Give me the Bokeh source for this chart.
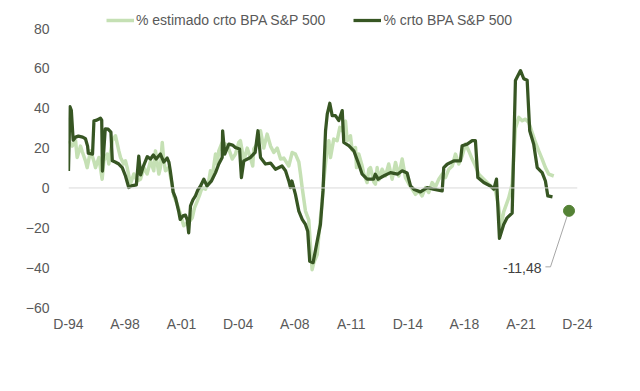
from bokeh.plotting import figure
from bokeh.models import (Range1d, FixedTicker, Span, Legend, LegendItem)
from bokeh.core.properties import value
from bokeh.embed import file_html
from bokeh.resources import INLINE

# ---- data (month index from Dec-1994) ----
tick_months = [0, 40, 80, 120, 160, 200, 240, 280, 320, 360]
tick_labels = ["D-94", "A-98", "A-01", "D-04", "A-08", "A-11", "D-14", "A-18", "A-21", "D-24"]
y_ticks = [-60, -40, -20, 0, 20, 40, 60, 80]

actual_m = [0, 1, 2, 3.3, 5, 7, 10, 12, 13.5, 14, 17, 18, 20, 22.6, 23.5, 24, 26, 28, 30, 31,
            33, 35.6, 38, 40.3, 42.6, 44.5, 48, 49.7, 51, 53, 55.7, 58, 60, 62, 65, 67.4, 69.8, 71, 72, 74,
            75.7, 78, 79, 81, 82.7, 84, 85, 86.3, 88, 89.8, 91.5, 93.4, 95.7, 98, 101, 104, 106.3, 108.7, 109, 110.5,
            113.4, 116, 118, 121, 122.3, 124, 128.7, 132, 134, 135.8, 139.3, 142.9, 146.4, 151, 153.5, 155.8, 157, 158, 160.5, 162.9,
            165.3, 167.6, 169.2, 170.6, 173, 175.9, 178.2, 180, 181.8, 183, 184.8, 186.5, 188.8, 191.2, 193.6, 194.7, 198.2, 201.8, 205.3, 207.7,
            211.2, 215.7, 217, 219, 222.8, 227.7, 232.7, 236, 239.5, 241.9, 244.2, 248.9, 253.7, 258, 264.3, 265.4, 267.8, 272.5, 277.2, 278.4,
            282, 285.5, 287.8, 289.5, 293.7, 298.4, 300.8, 302.7, 304.8, 307.8, 310.2, 313.8, 316.1, 319.7, 322, 324.4, 326.2, 329, 331.5, 335,
            337.3, 339, 342.3]
actual_v = [8.5, 40.8, 39, 24, 25.5, 26, 25.5, 24.7, 21, 17.4, 17, 33.7, 34, 35, 34, 8.5, 29.7, 29.5, 28, 13.6,
            13, 12, 10.2, 6, 0.2, 1, 1.5, 16, 6.5, 11, 15.7, 14.5, 16.5, 14.5, 17, 13, 15, 13, 8.6, -2,
            -5, -12, -15.8, -14, -13.6, -16, -22.5, -9, -6, -4, -1, 1, 4.4, 1, 3.4, 7.7, 12, 15.3, 28.7, 17,
            22, 21.5, 20.3, 19.5, 5.2, 13.6, 15.3, 17.8, 28.7, 15.3, 12, 12.5, 9.4, 11, 8.6, 3.5, 0.2, 3.5, -3.2, -11.6,
            -15.8, -18.3, -21.7, -36.8, -37.5, -26.7, -18.3, -1.5, 28.7, 37, 42.5, 36.3, 36.3, 33.8, 38.8, 22.8, 21.2, 18.6, 11.9, 6.9,
            4.4, 4.4, 6.9, 4.4, 6, 7.7, 6.9, 8.6, 7.5, 1, -0.6, -2, 0.2, -0.6, -1.5, 10.2, 11.9, 13.6, 13.6, 21.2,
            22, 23.7, 23.7, 5.2, 2.7, 1, -0.6, 4.4, -25.3, -18.3, -15, -12.6, 53.9, 58.9, 54.8, 54, 28.7, 22, 10.2, 7.7,
            3.5, -4, -4.5]

est_m = [0.2, 2.6, 5, 6.1, 8.5, 9.7, 12, 13.2, 15.6, 17.9, 19.1, 21.5, 23.8, 25, 27.4, 28.5, 30.9, 33.2, 35.6, 36.8,
         39.1, 40.3, 41.5, 43.8, 46.2, 48.6, 50.9, 53.3, 55.6, 58, 60.3, 61.5, 63.9, 65, 66.3, 67.4, 68.6, 70.9, 73.3, 74.5,
         76.8, 79.2, 81.5, 83.9, 85.8, 87.5, 89.1, 91, 92.9, 94.5, 96.9, 99.2, 100.4, 101.6, 104, 105.2, 106.3, 108.7, 111, 113.4,
         115.8, 118.1, 120.4, 121.6, 124, 126.4, 128.7, 130.3, 131, 133.5, 135.8, 138.1, 140.5, 142.9, 145.2, 147.6, 150, 152.3, 155.8, 158.2,
         160.5, 162.9, 164.1, 165.3, 167.6, 169.9, 171.1, 172.3, 173.5, 175.9, 177, 178.2, 179.4, 180.5, 182.5, 184.1, 185.3, 187.6, 190, 191.9,
         193.6, 194.7, 195.9, 197.1, 199.4, 200.6, 203, 203.7, 205.3, 207.7, 208.9, 211.2, 212.4, 213.6, 215.9, 217.1, 218.3, 219.5, 221.8, 224.2,
         226.5, 228.9, 231.3, 233.6, 236, 238.3, 240.7, 243.1, 245.4, 247.7, 250.1, 252.5, 254.8, 257.2, 259.5, 261.9, 264.3, 266.6, 269, 271.4,
         273.7, 276, 278.4, 280.8, 283.1, 285.5, 287.8, 290.2, 293.7, 296.4, 299.6, 302, 304.3, 305.9, 307.8, 311.4, 313.8, 316.1, 318.5, 320.9,
         323.2, 325.5, 327.9, 330.3, 332.6, 335, 337.3, 339.7, 343.2]
est_v = [23.7, 21, 23.7, 15.3, 21, 18.3, 13.6, 10.2, 18.6, 13.6, 10.2, 15.3, 4.4, 13.6, 17, 12, 23.7, 26.2, 18.6, 15.3,
         12, 13.6, 10.2, 2, 7, 3.5, 4.4, 10.2, 7, 13.6, 8.6, 18.6, 7, 10.2, 22.8, 13.6, 8.6, 10.2, 1.8, -4,
         -8, -13.3, -19, -17.5, -16.6, -15, -10, -6.7, -3.2, 0.2, -0.6, 3.5, 8.6, 5.2, 17, 12, 18.6, 22.8, 22, 19.5,
         14.5, 17, 22.8, 23.7, 13.6, 20, 15, 11, 19.5, 22, 28.7, 20, 27, 21, 17.8, 20, 14.5, 15, 11, 17.8,
         17, 13, 6.9, 0, -11.6, -16, -28.4, -41, -37.5, -33.4, -24, -15, -7, 3.5, 17, 23.7, 15.3, 24.5, 23.7, 30.4,
         28.7, 32.9, 33.5, 23.7, 26.2, 19, 20.3, 10.2, 17, 11, 7, 2.7, 9.4, 10.2, 3, 1.9, 10.2, 4, 9.4, 6,
         12, 4.4, 12.8, 6, 14.5, 5.2, 2, -0.6, -3.2, -1.5, -4, 0.2, -2.3, 2.7, 0.5, 4.4, 6.9, 5.2, 9.4, 11,
         17, 12, 16, 22, 18.6, 14.5, 11, 6.9, 4.4, 2.5, 0.2, -1.5, -9.9, -19.5, -12, -4.9, 2, 30, 35.4, 33.7,
         34.5, 32.9, 27.8, 22.8, 18.6, 14.5, 10.2, 6.9, 6]

last_m = [354]
last_v = [-11.48]

# annotation placement (data units)
label_pos = (320.9, -40.2)
leader_m = [337.3, 340.9, 353.1]
leader_v = [-39.6, -39.6, -13.2]

DARK = "#375623"
LIGHT = "#C5E0B4"
DOT = "#548235"
TXT = "#595959"
FONT = "Liberation Sans"

# frame spans the top band too so the legend (drawn inside the frame) is not clipped
Y_TOP = 80 + 28 * 140 / 278.7

p = figure(width=632, height=383, output_backend="svg", toolbar_location=None,
           x_range=Range1d(0, 360), y_range=Range1d(-60, Y_TOP),
           min_border_left=68, min_border_right=55, min_border_top=0, min_border_bottom=76)
p.outline_line_color = None
p.xgrid.visible = False
p.ygrid.visible = False
p.background_fill_color = "white"
p.border_fill_color = "white"

p.add_layout(Span(location=0, dimension="width", line_color="#D9D9D9", line_width=1))

r_est = p.line(est_m, est_v, line_color=LIGHT, line_width=3.5, line_join="round")
r_act = p.line(actual_m, actual_v, line_color=DARK, line_width=3.25, line_join="round")

p.line(leader_m, leader_v, line_color="#A6A6A6", line_width=1)
p.scatter(last_m, last_v, size=11, color=DOT, line_color=DOT)
p.text(x=[label_pos[0]], y=[label_pos[1]],
       text=[("%.2f" % last_v[0]).replace(".", ",")],
       text_font=value(FONT), text_font_size="14px", text_color="#404040",
       text_align="center", text_baseline="middle")

# axes
p.yaxis.ticker = FixedTicker(ticks=y_ticks)
p.xaxis.ticker = FixedTicker(ticks=tick_months)
p.xaxis.major_label_overrides = {m: l for m, l in zip(tick_months, tick_labels)}
for ax in (p.xaxis, p.yaxis):
    ax.axis_line_color = None
    ax.major_tick_line_color = None
    ax.minor_tick_line_color = None
    ax.major_label_text_color = TXT
    ax.major_label_text_font = FONT
    ax.major_label_text_font_size = "14px"
p.yaxis.major_label_standoff = 13
p.xaxis.major_label_standoff = 2

legend = Legend(items=[LegendItem(label="% estimado crto BPA S&P 500", renderers=[r_est]),
                       LegendItem(label="% crto BPA S&P 500", renderers=[r_act])],
                location=(38, 279), orientation="horizontal",
                glyph_width=28, glyph_height=14, label_height=14, label_standoff=2, spacing=28,
                padding=0, margin=0, border_line_color=None, background_fill_alpha=0,
                label_text_font=FONT, label_text_font_size="14px", label_text_color=TXT)
p.add_layout(legend, "center")

open("out.html", "w").write(file_html(p, INLINE))
